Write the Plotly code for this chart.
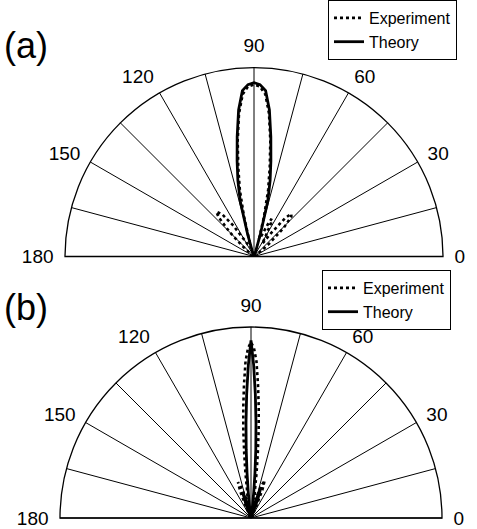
import plotly.graph_objects as go

# ---------------- data ----------------
# (a)
theta_theory_a = [60, 70, 72, 74, 76, 78, 80, 82, 84, 86, 88, 90,
                  92, 94, 96, 98, 100, 102, 104, 106, 108, 110, 120]
r_theory_a = [0.0, 0.0, 0.03, 0.12, 0.30, 0.41, 0.515, 0.64, 0.78, 0.88, 0.91, 0.92,
              0.91, 0.88, 0.78, 0.64, 0.515, 0.41, 0.30, 0.12, 0.03, 0.0, 0.0]

theta_exp_a = [30, 35, 40, 44, 47, 49, 51, 54, 57, 60, 63, 65, 67, 70, 72,
               74, 76, 78, 80, 82, 84, 86, 88, 90, 92, 94, 96, 98, 100, 102, 104, 106,
               108, 110, 115, 120, 124, 127, 130, 132, 135, 138, 142, 150]
r_exp_a = [0.0, 0.02, 0.10, 0.22, 0.29, 0.30, 0.26, 0.15, 0.08, 0.12, 0.20, 0.22, 0.18, 0.12, 0.10,
           0.10, 0.22, 0.36, 0.48, 0.62, 0.76, 0.86, 0.90, 0.91, 0.90, 0.86, 0.76, 0.62, 0.48, 0.36, 0.22, 0.10,
           0.06, 0.05, 0.06, 0.10, 0.20, 0.28, 0.31, 0.28, 0.18, 0.08, 0.02, 0.0]

# (b)
theta_theory_b = [60, 65, 70, 72, 74, 78, 80, 82, 83, 84, 85, 86, 87, 88, 89, 90,
                  91, 92, 93, 94, 95, 96, 97, 98, 100, 102, 106, 108, 110, 115, 120]
r_theory_b = [0.0, 0.0, 0.10, 0.17, 0.10, 0.03, 0.0, 0.03, 0.07, 0.14, 0.24, 0.36, 0.50, 0.65, 0.80, 0.93,
              0.80, 0.65, 0.50, 0.36, 0.24, 0.14, 0.07, 0.03, 0.0, 0.02, 0.10, 0.14, 0.08, 0.0, 0.0]

theta_exp_b = [60, 65, 68, 70, 72, 75, 78, 81, 82, 83, 84, 85, 86, 87, 88, 89, 90,
               91, 92, 93, 94, 95, 96, 97, 98, 99, 102, 105, 108, 110, 112, 115, 120]
r_exp_b = [0.0, 0.05, 0.16, 0.21, 0.18, 0.12, 0.10, 0.12, 0.15, 0.24, 0.34, 0.46, 0.58, 0.70, 0.82, 0.89, 0.92,
           0.89, 0.82, 0.70, 0.58, 0.46, 0.34, 0.24, 0.15, 0.12, 0.10, 0.12, 0.17, 0.20, 0.15, 0.05, 0.0]

tick_vals = [0, 15, 30, 45, 60, 75, 90, 105, 120, 135, 150, 165, 180]
tick_text = ["0", "", "30", "", "60", "", "90", "", "120", "", "150", "", "180"]

panel_labels = ["(a)", "(b)"]

FONT = "Liberation Sans, Arial, sans-serif"

fig = go.Figure()

def add_panel(th_t, r_t, th_e, r_e, subplot, legend):
    fig.add_trace(go.Scatterpolar(theta=th_e, r=r_e, mode="lines", name="Experiment",
                                  line=dict(color="black", width=2.6, dash="dot"),
                                  subplot=subplot, legend=legend))
    fig.add_trace(go.Scatterpolar(theta=th_t, r=r_t, mode="lines", name="Theory",
                                  line=dict(color="black", width=2.8),
                                  subplot=subplot, legend=legend))

add_panel(theta_theory_a, r_theory_a, theta_exp_a, r_exp_a, "polar", "legend")
add_panel(theta_theory_b, r_theory_b, theta_exp_b, r_exp_b, "polar2", "legend2")

def polar_cfg(xdom, ydom):
    return dict(
        domain=dict(x=xdom, y=ydom),
        sector=[0, 180],
        bgcolor="white",
        radialaxis=dict(visible=False, range=[0, 1]),
        angularaxis=dict(
            rotation=0, direction="counterclockwise",
            tickmode="array", tickvals=tick_vals, ticktext=tick_text,
            ticks="outside", ticklen=7, tickcolor="rgba(0,0,0,0)",
            showline=True, linecolor="black", linewidth=1.3,
            showgrid=True, gridcolor="black", gridwidth=1.3,
            tickfont=dict(size=19, color="black", family=FONT),
        ),
    )

W, H = 477, 529
fig.update_layout(
    width=W, height=H,
    margin=dict(l=0, r=0, t=0, b=0),
    paper_bgcolor="white",
    font=dict(family=FONT, color="black"),
    polar=polar_cfg([65 / W, 443 / W], [1 - 257 / H, 1 - 67 / H]),
    polar2=polar_cfg([60 / W, 442 / W], [1 - 518 / H, 1 - 327 / H]),
    legend=dict(x=328 / W, y=1.0, xanchor="left", yanchor="top",
                bgcolor="white", bordercolor="black", borderwidth=1,
                font=dict(size=16, family=FONT, color="black"), tracegroupgap=0),
    legend2=dict(x=322 / W, y=1 - 270 / H, xanchor="left", yanchor="top",
                 bgcolor="white", bordercolor="black", borderwidth=1,
                 font=dict(size=16, family=FONT, color="black"), tracegroupgap=0),
    showlegend=True,
)

fig.add_annotation(text=panel_labels[0], x=2 / W, y=1 - 45 / H, xref="paper", yref="paper",
                   xanchor="left", yanchor="middle", showarrow=False,
                   font=dict(size=36, family=FONT, color="black"))
fig.add_annotation(text=panel_labels[1], x=2 / W, y=1 - 307 / H, xref="paper", yref="paper",
                   xanchor="left", yanchor="middle", showarrow=False,
                   font=dict(size=36, family=FONT, color="black"))

fig.write_html("out.html", config={"displayModeBar": False},
               post_script="document.body.style.margin='0';")
